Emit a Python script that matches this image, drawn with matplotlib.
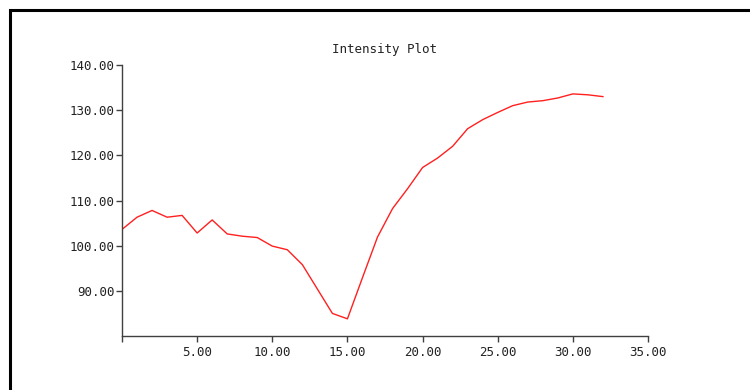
import matplotlib
matplotlib.use("Agg")
import matplotlib.pyplot as plt
from matplotlib.patches import Rectangle
from matplotlib.ticker import FixedLocator

x_values = list(range(33))
intensity = [103.6, 106.3, 107.8, 106.3, 106.7, 102.8, 105.7, 102.6, 102.1, 101.8,
             99.9, 99.1, 95.8, 90.4, 85.0, 83.8, 92.9, 101.9, 108.2, 112.6,
             117.3, 119.4, 122.0, 125.9, 127.9, 129.5, 131.0, 131.8, 132.1, 132.7,
             133.6, 133.4, 133.0]
x_ticks = [0, 5, 10, 15, 20, 25, 30, 35]
y_ticks = [90, 100, 110, 120, 130, 140]
title = "Intensity Plot"

plt.rcParams['font.family'] = ['DejaVu Sans Mono']
fig = plt.figure(figsize=(7.5, 3.9), dpi=100)
ax = fig.add_axes([122/750, 54/390, (648-122)/750, (336-65)/390])

ax.plot(x_values, intensity, color='#ff2020', linewidth=1.0)
ax.set_xlim(0, 35)
ax.set_ylim(80, 140)
ax.set_xticks(x_ticks)
ax.set_xticklabels([''] + ['%.2f' % t for t in x_ticks[1:]])
ax.set_yticks(y_ticks)
ax.set_yticklabels(['%.2f' % t for t in y_ticks])

for s in ['top', 'right']:
    ax.spines[s].set_visible(False)
for s in ['left', 'bottom']:
    ax.spines[s].set_color('#404040')
    ax.spines[s].set_linewidth(1.0)
ax.tick_params(axis='both', direction='out', length=4, width=1, color='#404040',
               labelsize=9, labelcolor='#222222')
ax.tick_params(axis='y', pad=1.5)
ax.tick_params(axis='x', pad=3)

fig.text(384/750, 1 - 49/390, title, ha='center', va='center', fontsize=9, color='#222222')

# outer frame (left and top edges visible)
fig.patches.append(Rectangle((9.5/750, -0.2), 1.2, 0.2 + (390-9.5)/390,
                             transform=fig.transFigure, fill=False,
                             edgecolor='black', linewidth=2.2))

fig.savefig('out.png', dpi=100)
